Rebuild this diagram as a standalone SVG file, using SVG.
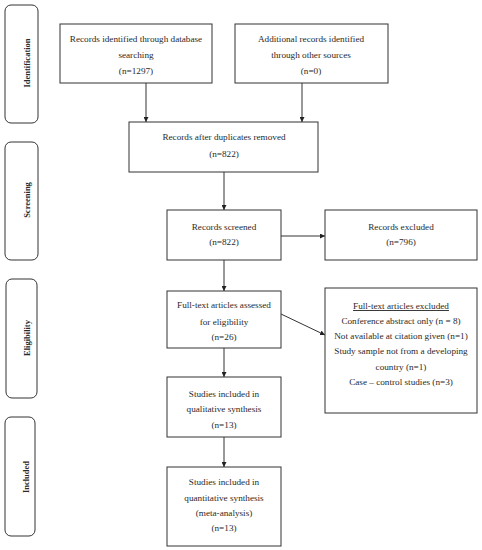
<svg xmlns="http://www.w3.org/2000/svg" width="482" height="550" viewBox="0 0 482 550">
<style>
.box{fill:#fff;stroke:#333;stroke-width:1}
.side{fill:#fff;stroke:#333;stroke-width:1}
text{font-family:"Liberation Serif","DejaVu Serif",serif;font-size:9.2px;fill:#2a2a2a;text-anchor:middle}
.lab{font-weight:bold;font-size:8.5px}
.con{stroke:#333;stroke-width:1;fill:none;marker-end:url(#ah)}
</style>
<defs>
<marker id="ah" viewBox="0 0 10 10" refX="10" refY="5" markerWidth="5" markerHeight="5" orient="auto" markerUnits="userSpaceOnUse">
<path d="M0,0 L10,5 L0,10 z" fill="#222"/>
</marker>
</defs>
<rect width="482" height="550" fill="#fff"/>
<g id="phase-identification"><rect class="side" x="5" y="5" width="33" height="118" rx="6"/><text class="lab" transform="translate(30,63) rotate(-90)">Identification</text></g>
<g id="phase-screening"><rect class="side" x="5" y="142" width="33" height="118" rx="6"/><text class="lab" transform="translate(30,200) rotate(-90)">Screening</text></g>
<g id="phase-eligibility"><rect class="side" x="6" y="279" width="31" height="119" rx="6"/><text class="lab" transform="translate(30,338) rotate(-90)">Eligibility</text></g>
<g id="phase-included"><rect class="side" x="5" y="417" width="30" height="119" rx="6"/><text class="lab" transform="translate(29,477) rotate(-90)">Included</text></g>
<g id="connectors">
<line class="con" x1="146" y1="83" x2="146" y2="122"/>
<line class="con" x1="302" y1="83" x2="302" y2="122"/>
<line class="con" x1="224" y1="172" x2="224" y2="210"/>
<line class="con" x1="281" y1="236" x2="325" y2="236"/>
<line class="con" x1="224" y1="260" x2="224" y2="291"/>
<line class="con" x1="281" y1="314" x2="325" y2="335"/>
<line class="con" x1="224" y1="348" x2="224" y2="377"/>
<line class="con" x1="224" y1="437" x2="224" y2="467"/>
</g>
<g id="n1"><rect class="box" x="60" y="24" width="152" height="59"/><text x="136" y="42">Records identified through database</text><text x="136" y="58">searching</text><text x="136" y="74">(n=1297)</text></g>
<g id="n2"><rect class="box" x="235" y="24" width="153" height="59"/><text x="311" y="42">Additional records identified</text><text x="311" y="58">through other sources</text><text x="311" y="74">(n=0)</text></g>
<g id="n3"><rect class="box" x="129" y="122" width="189" height="50"/><text x="224" y="140">Records after duplicates removed</text><text x="224" y="157">(n=822)</text></g>
<g id="n4"><rect class="box" x="167" y="210" width="114" height="50"/><text x="224" y="230">Records screened</text><text x="224" y="245">(n=822)</text></g>
<g id="n5"><rect class="box" x="325" y="210" width="152" height="50"/><text x="401" y="230">Records excluded</text><text x="401" y="245">(n=796)</text></g>
<g id="n6"><rect class="box" x="167" y="291" width="114" height="57"/><text x="224" y="308">Full-text articles assessed</text><text x="224" y="325">for eligibility</text><text x="224" y="340">(n=26)</text></g>
<g id="n7"><rect class="box" x="325" y="288" width="152" height="125"/><text x="401" y="309" text-decoration="underline">Full-text articles excluded </text><text x="401" y="324">Conference abstract only (n = 8)</text><text x="401" y="339">Not available at citation given (n=1)</text><text x="401" y="354">Study sample not from a developing</text><text x="401" y="370">country (n=1)</text><text x="401" y="385">Case – control studies (n=3)</text></g>
<g id="n8"><rect class="box" x="167" y="377" width="114" height="60"/><text x="224" y="397">Studies included in</text><text x="224" y="412">qualitative synthesis</text><text x="224" y="428">(n=13)</text></g>
<g id="n9"><rect class="box" x="167" y="467" width="114" height="79"/><text x="224" y="485">Studies included in</text><text x="224" y="501">quantitative synthesis</text><text x="224" y="516">(meta-analysis)</text><text x="224" y="531">(n=13)</text></g>
</svg>
